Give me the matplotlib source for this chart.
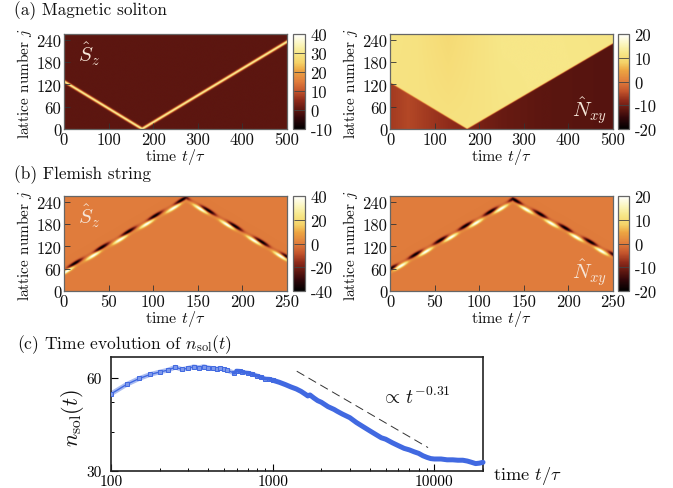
import numpy as np
import matplotlib
matplotlib.use("Agg")
import matplotlib.pyplot as plt
from matplotlib.colors import LinearSegmentedColormap
from matplotlib.ticker import FixedLocator, FixedFormatter, NullFormatter

plt.rcParams['font.family'] = ['cmr10', 'DejaVu Serif']
plt.rcParams['mathtext.fontset'] = 'cm'
plt.rcParams['axes.unicode_minus'] = False
plt.rcParams['axes.formatter.use_mathtext'] = True

# --- values ---
soliton_t = [0, 175, 500]
soliton_j = [128, 0, 235]
boundary_t = [0, 172, 500]
boundary_j = [125, 0, 232]
nxy_upper_t = [0, 60, 130, 175, 250, 350, 500]
nxy_upper_high = [11.5, 11, 9.5, 10.5, 12, 12, 11.5]
nxy_upper_low = [11, 11, 11, 11, 11.5, 12, 12]
nxy_lower_t = [0, 40, 100, 172, 250, 350, 500]
nxy_lower_v = [-6.5, -5.2, -7, -9, -11, -12, -12.5]
string_t = [0, 137, 250]
string_sz_j = [55, 250, 90]
string_nxy_j = [57, 246, 95]

t_obs = [100, 125, 150, 175, 200, 225, 250, 275, 300, 325, 350, 375, 400, 425, 450, 475, 500, 525,
         575, 600, 625, 650, 700, 750, 800, 850, 900, 950, 1000]
n_obs = [53.2, 57.1, 59.7, 61.5, 62.6, 63.5, 64.9, 63.8, 64.4, 65.1, 64.7, 65.2, 64.6, 64.3, 64.0, 64.4, 63.8, 63.4,
         62.2, 63.2, 63.0, 62.6, 62.2, 61.6, 60.9, 60.2, 59.6, 59.4, 58.9]
t_dense = [1000, 1100, 1200, 1300, 1400, 1500, 1600, 1650, 1700, 1800, 1900, 2000, 2200, 2400, 2500, 2700,
           3000, 3300, 3600, 4000, 4400, 4700, 5000, 5500, 6000, 6500, 7000, 7500, 8000, 8500, 9000,
           9500, 10000, 11000, 12000, 13000, 14000, 15000, 16000, 17000, 18000, 19000, 20000]
n_dense = [58.9, 58.0, 57.0, 56.0, 55.2, 54.2, 53.0, 52.4, 52.8, 51.6, 50.6, 50.0, 48.4, 47.4, 46.8, 45.8,
           44.6, 43.0, 41.8, 40.4, 39.2, 38.4, 38.0, 37.0, 36.2, 35.5, 35.1, 34.6, 34.2, 33.6, 33.2,
           32.9, 32.8, 32.8, 32.6, 32.6, 32.5, 32.5, 32.3, 32.0, 31.7, 31.8, 32.0]
guide_t = [1409, 9144]
guide_n = [63.0, 35.7]

tick_j = [0, 60, 120, 180, 240]
tick_t_long = [0, 100, 200, 300, 400, 500]
tick_t_short = [0, 50, 100, 150, 200, 250]

W, H = 673, 489
cmap = LinearSegmentedColormap.from_list("fire", [
    (0.00, "#000000"), (0.12, "#33070a"), (0.20, "#5c1610"), (0.30, "#8e2a1a"),
    (0.40, "#c4552c"), (0.50, "#e07c3c"), (0.62, "#eda642"), (0.70, "#f5d268"),
    (0.80, "#f7e788"), (0.90, "#fbf6c0"), (1.00, "#ffffff")])

fig = plt.figure(figsize=(W / 100, H / 100), dpi=100)


def px_axes(x0, y0, x1, y1):
    return fig.add_axes([x0 / W, 1 - y1 / H, (x1 - x0) / W, (y1 - y0) / H])


def ftext(x, y, s, **kw):
    kw.setdefault('color', '#111111')
    fig.text(x / W, 1 - y / H, s, **kw)


def field_soliton(T, J):
    xi = J - np.interp(T, soliton_t, soliton_j)
    return 33 * np.exp(-xi ** 2 / (2 * 2.9 ** 2))


def field_domain(T, J):
    xi = J - np.interp(T, boundary_t, boundary_j)
    hi = np.interp(T, nxy_upper_t, nxy_upper_high)
    lo = np.interp(T, nxy_upper_t, nxy_upper_low)
    up = lo + (hi - lo) * np.clip(J / 256, 0, 1)
    low = np.interp(T, nxy_lower_t, nxy_lower_v)
    s = 0.5 * (1 + np.tanh(xi / 1.5))
    return low + (up - low) * s


def field_string(T, J, ridge, amp, t_dark, t_bright, period, width):
    xi = J - np.interp(T, string_t, ridge)
    m_d = 0.10 + 0.90 * (0.5 + 0.5 * np.cos(2 * np.pi * (T - t_dark) / period)) ** 1.4
    m_b = 0.10 + 0.90 * (0.5 + 0.5 * np.cos(2 * np.pi * (T - t_bright) / period)) ** 1.4
    dark = np.exp(-(xi - 2.5) ** 2 / (2 * width ** 2)) * m_d
    bright = np.exp(-(xi + 6.0) ** 2 / (2 * width ** 2)) * m_b
    return amp * (bright - dark)


def heat(x0, y0, x1, y1, cb0, cb1, tmax, ticks_t, field, vmin, vmax, cticks, lab, lab_xy, lab_col, ylab_x):
    ax = px_axes(x0, y0, x1, y1)
    t = np.linspace(0, tmax, 500)
    j = np.linspace(0, 256, 400)
    T, J = np.meshgrid(t, j)
    im = ax.imshow(field(T, J), origin='lower', extent=[0, tmax, 0, 256], aspect='auto',
                   cmap=cmap, vmin=vmin, vmax=vmax, interpolation='bilinear')
    ax.set_xticks(ticks_t)
    ax.set_yticks(tick_j)
    ax.set_xticklabels([str(v) for v in ticks_t])
    ax.set_yticklabels([str(v) for v in tick_j])
    ax.tick_params(direction='in', length=4, width=0.6, color='#333333', labelsize=12, pad=2,
                   labelcolor='#111111')
    for s in ax.spines.values():
        s.set_color('#666666')
        s.set_linewidth(0.9)
    cax = px_axes(cb0, y0, cb1, y1)
    cb = fig.colorbar(im, cax=cax, ticks=cticks)
    cb.ax.set_yticklabels([str(v) for v in cticks])
    cb.ax.tick_params(direction='in', length=8, width=0.6, color='#444444', labelsize=12, pad=4,
                      labelcolor='#111111')
    cb.outline.set_edgecolor('#666666')
    cb.outline.set_linewidth(0.9)
    ftext(ylab_x, (y0 + y1) / 2 + 1, r'lattice number $j$', rotation=90, ha='center', va='center', fontsize=11)
    ftext((x0 + x1) / 2, y1 + 27, r'time $t/\tau$', ha='center', va='center', fontsize=11.5)
    ftext(lab_xy[0], lab_xy[1], lab, ha='left', va='center', fontsize=15, color=lab_col)
    return ax


heat(64, 35, 287, 130, 293, 305, 500, tick_t_long, field_soliton, -10, 40,
     [-10, 0, 10, 20, 30, 40], r'$\hat{S}_z$', (78, 54), '#f6e6d8', 25)
heat(390, 35, 613, 130, 618, 629, 500, tick_t_long, field_domain, -20, 20,
     [-20, -10, 0, 10, 20], r'$\hat{N}_{xy}$', (572, 111), '#f6e6d8', 351)
heat(64, 197, 287, 292, 293, 305, 250, tick_t_short,
     lambda T, J: field_string(T, J, string_sz_j, 42, 12, 3, 30, 3.6), -40, 40,
     [-40, -20, 0, 20, 40], r'$\hat{S}_z$', (78, 216), '#f6e6d8', 25)
heat(390, 197, 613, 292, 618, 629, 250, tick_t_short,
     lambda T, J: field_string(T, J, string_nxy_j, 21, 28, 12, 28, 3.6), -20, 20,
     [-20, -10, 0, 10, 20], r'$\hat{N}_{xy}$', (572, 273), '#f6e6d8', 351)

ftext(14, 11, '(a) Magnetic soliton', ha='left', va='center', fontsize=12.4)
ftext(14, 175, '(b) Flemish string', ha='left', va='center', fontsize=12.4)
ftext(17, 345, r'(c) Time evolution of $n_{\mathrm{sol}}(t)$', ha='left', va='center', fontsize=12.6)

# --- panel c ---
ax = px_axes(111, 358, 483, 472)
ax.set_xscale('log')
ax.set_yscale('log')
ax.set_xlim(100, 20000)
ax.set_ylim(30, 70)
blue = '#4169e1'
ax.plot(t_obs, n_obs, color='#a9bbf0', lw=3.4, solid_capstyle='round', zorder=2)
ax.plot(t_obs, n_obs, color=blue, lw=1.0, marker='s', ms=2.2, mfc='#7d98ea', mec=blue, mew=0.7, zorder=3)
ax.plot(t_obs[18:], n_obs[18:], color=blue, lw=2.4, solid_capstyle='round', zorder=3)
ax.plot(t_dense, n_dense, color=blue, lw=3.6, solid_capstyle='round', zorder=3, clip_on=False)
ax.plot(guide_t, guide_n, color='#333333', lw=0.7, dashes=(9, 5), zorder=2)
ax.xaxis.set_major_locator(FixedLocator([100, 1000, 10000]))
ax.xaxis.set_major_formatter(FixedFormatter(['100', '1000', '10000']))
ax.xaxis.set_minor_locator(FixedLocator([200, 300, 400, 500, 600, 700, 800, 900, 2000, 3000, 4000, 5000,
                                         6000, 7000, 8000, 9000, 20000]))
ax.xaxis.set_minor_formatter(NullFormatter())
ax.yaxis.set_major_locator(FixedLocator([30, 60]))
ax.yaxis.set_major_formatter(FixedFormatter(['30', '60']))
ax.yaxis.set_minor_locator(FixedLocator([40, 50]))
ax.yaxis.set_minor_formatter(NullFormatter())
ax.tick_params(which='major', direction='in', length=5, width=0.8, labelsize=11)
ax.tick_params(axis='x', which='major', pad=2.5)
ax.tick_params(axis='y', which='major', pad=6.5)
ax.tick_params(which='minor', direction='in', length=2.5, width=0.7)
for s in ax.spines.values():
    s.set_linewidth(1.2)
    s.set_color('#222222')
ftext(72, 418, r'$n_{\mathrm{sol}}(t)$', rotation=90, ha='center', va='center', fontsize=16)
ftext(493, 476, r'time $t/\tau$', ha='left', va='center', fontsize=13.2)
ftext(381, 397, r'$\propto\, t^{-0.31}$', ha='left', va='center', fontsize=14)

fig.savefig('out.png', dpi=100)
